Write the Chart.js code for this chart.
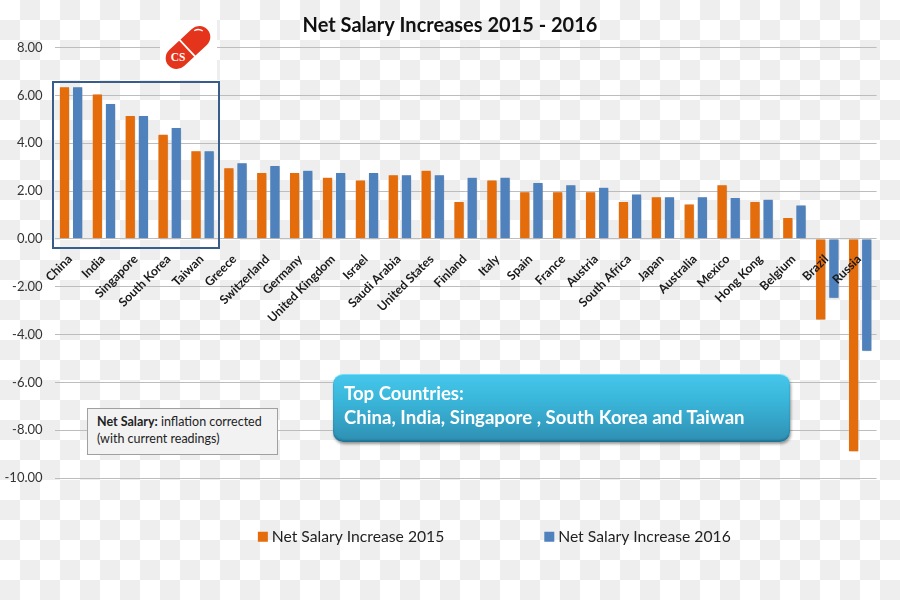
<!DOCTYPE html>
<html><head><meta charset="utf-8">
<style>
html,body{margin:0;padding:0;width:900px;height:600px;overflow:hidden}
body{position:relative;background:conic-gradient(#eee 25%,#fff 0 50%,#eee 0 75%,#fff 0) 0 0/40px 40px;font-family:Lato,sans-serif}
#wrap{position:absolute;left:0;top:0;width:900px;height:600px}
.abs{position:absolute;box-sizing:border-box}
#hl{left:52px;top:81px;width:168px;height:168px;border:2px solid #385D8A}
#note{left:87px;top:408px;width:191px;height:47px;background:#f2f2f2;border:1.5px solid #a0a0a0;color:#222;font-size:12.5px;line-height:17px;padding:4px 0 0 9px;white-space:nowrap}
#top{left:333px;top:374px;width:457px;height:68px;border-radius:10px;background:linear-gradient(#45c6ea 0%,#3ab8dc 35%,#2f8fb2 100%);border-top:1px solid #6fe0fa;box-shadow:1px 2px 3px rgba(0,0,0,.4),inset 0 -2px 2px rgba(0,60,90,.35);color:#fff;font-weight:700;font-size:18.6px;line-height:24px;padding:6px 0 0 11px;white-space:nowrap}
#logo{left:160px;top:20px;width:57px;height:60px;background:#fff}
</style></head><body>
<div id="wrap"><canvas id="c" width="900" height="600"></canvas></div>
<svg id="logo" class="abs" viewBox="0 0 57 60">
<g transform="translate(28,27.5) rotate(-43)">
<rect x="-26.5" y="-11" width="53" height="22" rx="11" fill="#E5341C"/>
<line x1="-1" y1="-12" x2="-1" y2="12" stroke="#fff" stroke-width="1.8"/>
<path d="M16 -8 Q21 -7 22 -2" fill="none" stroke="#fff" stroke-width="1.3"/>
</g>
<text x="18" y="41" font-family="Liberation Serif" font-weight="700" font-size="11.5" fill="#fff" text-anchor="middle">CS</text>
</svg>
<div id="hl" class="abs"></div>
<div id="note" class="abs"><b>Net Salary:</b> inflation corrected<br>(with current readings)</div>
<div id="top" class="abs">Top Countries:<br>China, India, Singapore , South Korea and Taiwan</div>
<script src="https://cdn.jsdelivr.net/npm/chart.js@4"></script>
<script>
const chartTitle="Net Salary Increases 2015 - 2016";
const seriesNames=["Net Salary Increase 2015","Net Salary Increase 2016"];
const categories=["China","India","Singapore","South Korea","Taiwan","Greece","Switzerland","Germany","United Kingdom","Israel","Saudi Arabia","United States","Finland","Italy","Spain","France","Austria","South Africa","Japan","Australia","Mexico","Hong Kong","Belgium","Brazil","Russia"];
const salary2015=[6.36,6.06,5.16,4.37,3.68,2.97,2.77,2.77,2.58,2.46,2.68,2.87,1.56,2.46,1.97,1.97,1.97,1.56,1.76,1.46,2.26,1.56,0.89,-3.39,-8.9];
const salary2016=[6.36,5.66,5.16,4.66,3.68,3.18,3.07,2.87,2.77,2.77,2.68,2.68,2.58,2.58,2.36,2.26,2.16,1.87,1.76,1.76,1.73,1.66,1.41,-2.48,-4.7];
const colors=["#E46C0A","#4F81BD"];

const shadow={id:"shadow",
 beforeDatasetsDraw(c){const x=c.ctx;x.save();x.shadowColor="rgba(0,0,0,.28)";x.shadowBlur=3;x.shadowOffsetX=1;x.shadowOffsetY=1;},
 afterDatasetsDraw(c){c.ctx.restore();}};
const place={id:"place",afterLayout(c){
 const l=c.legend;const d=425-l.top;l.top+=d;l.bottom+=d;l.left+=58;l.right+=58;
 const t=c.titleBlock;t.left+=11.7;t.right+=11.7;}};

new Chart(document.getElementById("c"),{
 type:"bar",
 data:{labels:categories,datasets:[
  {label:seriesNames[0],data:salary2015,backgroundColor:colors[0],borderColor:"rgba(255,255,255,.6)",borderWidth:0.5},
  {label:seriesNames[1],data:salary2016,backgroundColor:colors[1],borderColor:"rgba(255,255,255,.6)",borderWidth:0.5}]},
 plugins:[shadow,place],
 options:{responsive:false,animation:false,
  datasets:{bar:{categoryPercentage:0.8,barPercentage:0.78}},
  layout:{padding:{left:0,right:23.4,top:0,bottom:0}},
  plugins:{
   title:{display:true,text:chartTitle,color:"#111",font:{family:"Lato",size:20,weight:"700"},padding:{top:14,bottom:9.5}},
   legend:{position:"bottom",maxHeight:122,labels:{color:"#222",font:{family:"Lato",size:15.7},boxWidth:2,boxHeight:2,padding:104,
     generateLabels:c=>Chart.defaults.plugins.legend.labels.generateLabels(c).map(i=>({...i,lineWidth:8,strokeStyle:i.fillStyle}))}},
   tooltip:{enabled:false}},
  scales:{
   x:{position:{y:0},grid:{display:false},border:{display:false},
      ticks:{z:1,color:"#1a1a1a",font:{family:"Lato",size:12.3,weight:"700"},minRotation:45,maxRotation:45,autoSkip:false,padding:5,labelOffset:-1}},
   y:{min:-10,max:8,afterFit(s){s.width=54.6;},
      grid:{color:"#bdbdbd",lineWidth:1,drawTicks:false},border:{display:false},
      ticks:{stepSize:2,padding:12,color:"#333",font:{family:"Lato",size:13},callback:v=>v.toFixed(2)}}}
 }});
</script>
</body></html>
